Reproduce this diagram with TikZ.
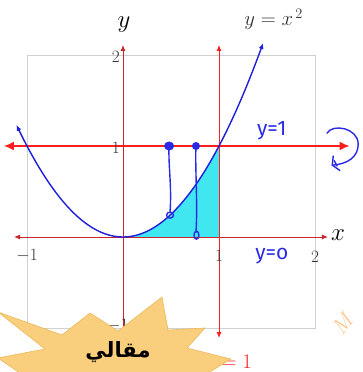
\documentclass[tikz,border=0pt]{standalone}
\usepackage{fontspec}
\newfontfamily\arabicfont[Script=Arabic]{DejaVu Sans}
\newfontfamily\handfont{Fira Sans}
\TeXXeTstate=1
\usetikzlibrary{arrows.meta}
\definecolor{axred}{HTML}{C8282C}
\definecolor{brred}{HTML}{FF1E1E}
\definecolor{pblue}{HTML}{1E1EDC}
\definecolor{hblue}{HTML}{2A2AE6}
\definecolor{fillcyan}{HTML}{40E6F0}
\definecolor{burst}{HTML}{F9CE7C}
\definecolor{burstedge}{HTML}{EDB85C}
\tikzset{
  axis/.style={axred, line width=0.9pt, {Latex[length=6pt,width=5pt]}-{Latex[length=6pt,width=5pt]}},
  redline/.style={brred, line width=1.5pt, {Latex[length=10pt,width=9pt]}-{Latex[length=10pt,width=9pt]}},
  redvert/.style={brred, line width=0.9pt, {Latex[length=6pt,width=5pt]}-{Latex[length=6pt,width=5pt]}},
  curve/.style={pblue, line width=1.4pt, {Latex[length=6pt,width=5pt]}-{Latex[length=6pt,width=5pt]}},
  hand/.style={hblue, line width=1.4pt, line cap=round, line join=round},
  tick/.style={font=\fontsize{18}{20}\selectfont, text=black!80},
  handtext/.style={hblue, font=\handfont\fontsize{21}{23}\selectfont},
}
\begin{document}
\begin{tikzpicture}[x=96pt,y=91pt]
\useasboundingbox (-1.28125,-1.4835) rectangle (2.4896,2.6044);
% grid frame
\draw[black!18, line width=0.7pt] (-1,-1) rectangle (2,2);
% shaded area
\fill[fillcyan] (0,0) -- plot[domain=0:1, samples=40] (\x,{\x*\x}) -- (1,0) -- cycle;
% axes
\coordinate (xl) at (-1.135,0); \coordinate (xr) at (2.135,0);
\coordinate (yb) at (0,-1.08); \coordinate (yt) at (0,2.11);
\draw[axis] (xl) -- (xr);
\draw[axis] (yb) -- (yt);
% x = 1 line
\coordinate (vb) at (1,-1.11); \coordinate (vt) at (1,2.11);
\draw[redvert] (vb) -- (vt);
% y = 1 line
\coordinate (hl) at (-1.24,1); \coordinate (hr) at (2.36,1);
\draw[redline] (hl) -- (hr);
% parabola
\draw[curve] plot[domain=-1.11:1.46, samples=80, smooth] (\x,{\x*\x});
% tick labels
\node[tick, anchor=east, inner sep=1pt] (t2) at (-0.02,1.98) {$2$};
\node[tick, anchor=east, inner sep=1pt] (t1) at (-0.02,0.98) {$1$};
\node[tick] (tm1x) at (-1.0,-0.2) {$-1$};
\node[tick] (t1x) at (1,-0.21) {$1$};
\node[tick] (t2x) at (2.0,-0.22) {$2$};
\node[tick, anchor=east, inner sep=1pt] (tm1y) at (0.07,-0.97) {$-1$};
% axis labels
\node[font=\fontsize{26}{28}\selectfont] (ylab) at (0.01,2.33) {$y$};
\node[font=\fontsize{26}{28}\selectfont] (xlab) at (2.24,0.02) {$x$};
\node[font=\fontsize{21}{23}\selectfont, text=black!80] (eq) at (1.57,2.39) {$y = x^{\,2}$};
\node[brred, font=\fontsize{20}{22}\selectfont, anchor=east, inner sep=0pt] (x1lab) at (1.345,-1.375) {$x = 1$};
% handwritten annotations
\node[handtext] (ylab1) at (1.55,1.17) {y=1};
\node[handtext] (ylab0) at (1.55,-0.21) {y=o};
\coordinate (d1) at (0.48,1); \coordinate (d2) at (0.76,1);
\coordinate (p1) at (0.49,0.24); \coordinate (p2) at (0.765,0.02);
\fill[hblue] (d1) ellipse (5pt and 4.5pt);
\fill[hblue] (d2) circle (4pt);
\draw[hand] (d1) .. controls (0.47,0.8) and (0.51,0.55) .. (0.49,0.28);
\draw[hand] (p1) ellipse (3.5pt and 3pt);
\draw[hand] (d2) .. controls (0.75,0.75) and (0.78,0.35) .. (0.76,0.05);
\draw[hand] (p2) ellipse (2.5pt and 4pt);
% rotation curl
\coordinate (c0) at (2.125,1.14);
\coordinate (c1) at (2.18,0.79);
\draw[hand] (c0) .. controls (2.18,1.25) and (2.45,1.2) .. (2.45,1.02)
  .. controls (2.45,0.88) and (2.34,0.8) .. (c1);
\draw[hand] (2.19,0.89) -- (c1) -- (2.26,0.73);
\draw[hand] (2.2,0.84) -- (2.23,0.78);
% watermark
\node[orange!45, rotate=52, font=\itshape\fontsize{22}{24}\selectfont] (wm) at (2.29,-0.96) {M};
% starburst
\begin{scope}[shift={(-1.28125,2.6044)}]
\begin{scope}[x=1pt,y=-1pt]
\filldraw[fill=burst, draw=burstedge, line width=0.6pt]
  (-2,312) -- (62,335) -- (90,313) -- (118,331) -- (162,297) -- (168,330)
  -- (205,328) -- (187,348) -- (231,359) -- (200,378) -- (30,380)
  -- (-2,358) -- (45,349) -- cycle;
\node[font=\arabicfont\bfseries\fontsize{21}{24}\selectfont] (maq) at (118,352) {\beginR مقالي\endR};
\end{scope}
\end{scope}
\end{tikzpicture}
\end{document}
